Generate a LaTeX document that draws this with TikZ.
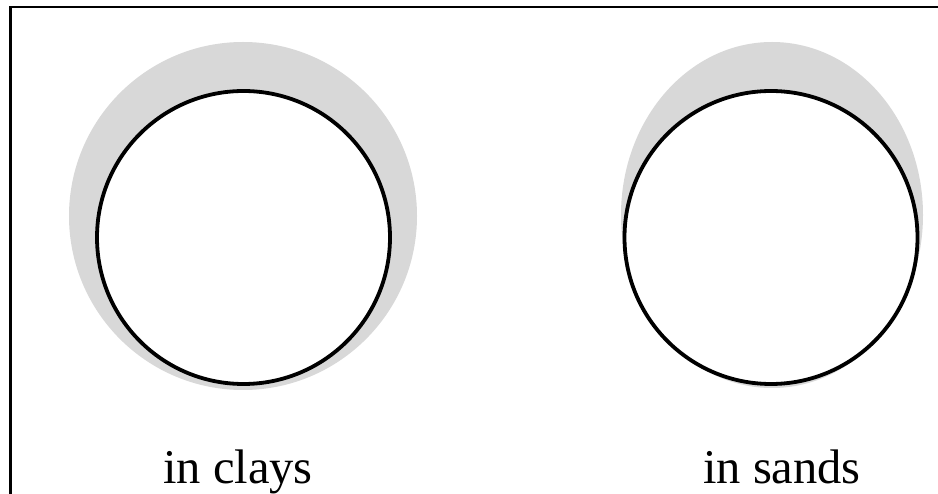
\documentclass[tikz,border=0pt]{standalone}
\usepackage{fontspec}
\setmainfont{Liberation Serif}
\definecolor{zonegray}{RGB}{216,216,216}
\begin{document}
\begin{tikzpicture}[x=1pt,y=-1pt,
  pipe/.style={draw=black,line width=3.8pt,fill=white},
  zone/.style={fill=zonegray,draw=none},
  caption/.style={anchor=base,inner sep=0pt,font=\fontsize{48.5}{58}\selectfont}]
\useasboundingbox (0,0) rectangle (938,494);
\fill[white] (0,0) rectangle (938,494);
% frame (top and left edges)
\draw[line width=2.2pt] (10.5,494) -- (10.5,7) -- (938,7);
% clays: wide circular zone around the pipe
\fill[zone] (243,216) circle (174);
\draw[pipe] (243.5,237.5) circle (146.5);
% sands: narrow elongated zone
\fill[zone] (772,215) ellipse [x radius=151, y radius=173];
\draw[pipe] (771,237.5) circle (146.5);
% captions
\node[caption] (clays) at (238,483) {in clays};
\node[caption] (sands) at (782,483) {in sands};
\end{tikzpicture}
\end{document}
